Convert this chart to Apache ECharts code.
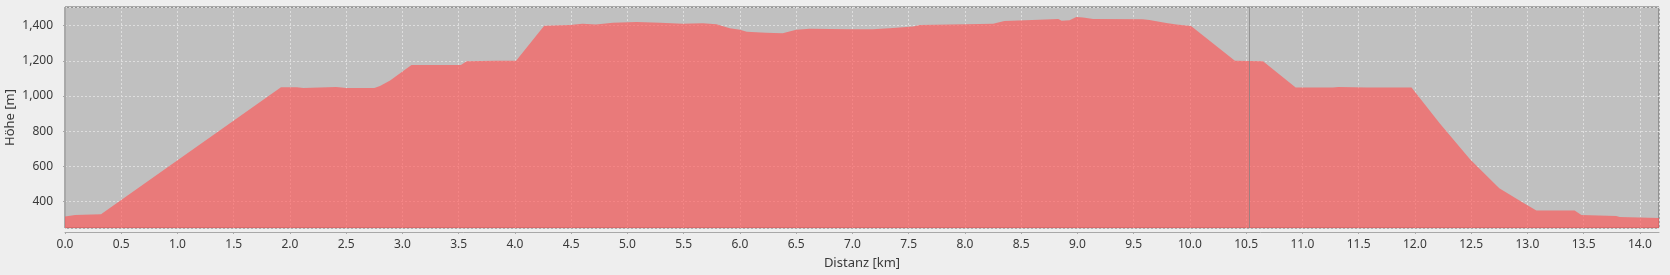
<!DOCTYPE html>
<html>
<head>
<meta charset="utf-8">
<script src="https://cdn.jsdelivr.net/npm/echarts@6/dist/echarts.min.js"></script>
<style>
html,body{margin:0;padding:0;background:#eeeeee;}
#chart{width:1670px;height:275px;}
</style>
</head>
<body>
<div id="chart"></div>
<script>
// Distance along track [km]
const distanceKm = [0, 0.09, 0.32, 1.92, 2.06, 2.12, 2.41, 2.50, 2.75, 2.80, 2.89, 3.00, 3.08, 3.52, 3.57, 3.83, 4.01, 4.26, 4.49, 4.60, 4.72, 4.87, 5.08, 5.29, 5.49, 5.67, 5.79, 5.91, 6.00, 6.06, 6.23, 6.38, 6.50, 6.62, 6.98, 7.18, 7.33, 7.54, 7.60, 8.01, 8.25, 8.35, 8.60, 8.83, 8.86, 8.93, 8.99, 9.05, 9.14, 9.58, 9.64, 9.79, 9.88, 10.01, 10.40, 10.65, 10.94, 11.27, 11.32, 11.57, 11.97, 12.22, 12.49, 12.75, 12.97, 13.08, 13.42, 13.48, 13.79, 13.82, 14.17];
// Elevation [m]
const heightM = [315, 324, 328, 1050, 1050, 1045, 1052, 1045, 1045, 1057, 1088, 1139, 1177, 1177, 1198, 1200, 1200, 1400, 1404, 1411, 1406, 1417, 1421, 1417, 1411, 1413, 1408, 1385, 1376, 1366, 1360, 1357, 1376, 1383, 1380, 1380, 1385, 1395, 1404, 1408, 1411, 1427, 1432, 1438, 1428, 1430, 1449, 1447, 1438, 1436, 1432, 1415, 1406, 1398, 1200, 1197, 1048, 1048, 1052, 1048, 1048, 845, 641, 476, 391, 349, 349, 324, 318, 313, 307];
// Position marker [km]
const markerKm = [10.53];
// Axis ranges
const xRange = [0, 14.17];
const yRange = [250, 1506];
const xAxisName = 'Distanz [km]';
const yAxisName = 'Höhe [m]';

const points = distanceKm.map((d, i) => [d, heightM[i]]);
const chart = echarts.init(document.getElementById('chart'), null, {renderer: 'canvas'});
const fontFamily = '"Noto Sans", "DejaVu Sans", sans-serif';
chart.setOption({
  backgroundColor: '#eeeeee',
  animation: false,
  grid: {
    left: 65, right: 11, top: 7, bottom: 47,
    containLabel: false, outerBoundsMode: 'none',
    show: true, backgroundColor: '#c0c0c0', borderColor: '#666666', borderWidth: 1
  },
  xAxis: {
    type: 'value', min: xRange[0], max: xRange[1], interval: 0.5,
    offset: 4,
    name: xAxisName, nameLocation: 'middle', nameGap: 25, nameMoveOverlap: false,
    nameTextStyle: {fontFamily, fontSize: 13, color: '#3a3a3a'},
    axisLine: {show: true, onZero: false, lineStyle: {color: '#a8a8a8', width: 1}},
    axisTick: {show: true, length: 2, lineStyle: {color: '#a8a8a8'}},
    axisLabel: {fontFamily, fontSize: 12, color: '#3a3a3a', margin: 7, showMaxLabel: false,
      formatter: v => v.toFixed(1)},
    splitLine: {show: true, lineStyle: {color: '#dedede', type: [2, 2], width: 1}}
  },
  yAxis: {
    type: 'value', min: yRange[0], max: yRange[1], splitNumber: 6,
    offset: 4,
    name: yAxisName, nameLocation: 'middle', nameGap: 44, nameRotate: 90, nameMoveOverlap: false,
    nameTextStyle: {fontFamily, fontSize: 13, color: '#3a3a3a'},
    axisLine: {show: true, lineStyle: {color: '#a8a8a8', width: 1}},
    axisTick: {show: true, length: 2, lineStyle: {color: '#a8a8a8'}},
    axisLabel: {fontFamily, fontSize: 12, color: '#3a3a3a', margin: 8, showMinLabel: false, showMaxLabel: false,
      formatter: v => v.toLocaleString('en-US')},
    splitLine: {show: true, lineStyle: {color: '#dedede', type: [2, 2], width: 1}}
  },
  series: [{
    type: 'line',
    data: points,
    showSymbol: false,
    lineStyle: {width: 0, opacity: 0},
    areaStyle: {color: 'rgba(255,85,85,0.65)', opacity: 1, origin: 'start'},
    silent: true,
    markLine: {
      silent: true, symbol: ['none', 'none'], animation: false,
      label: {show: false},
      lineStyle: {color: 'rgba(130,130,130,0.7)', type: 'solid', width: 1},
      data: markerKm.map(k => ({xAxis: k}))
    }
  }]
});
</script>
</body>
</html>
